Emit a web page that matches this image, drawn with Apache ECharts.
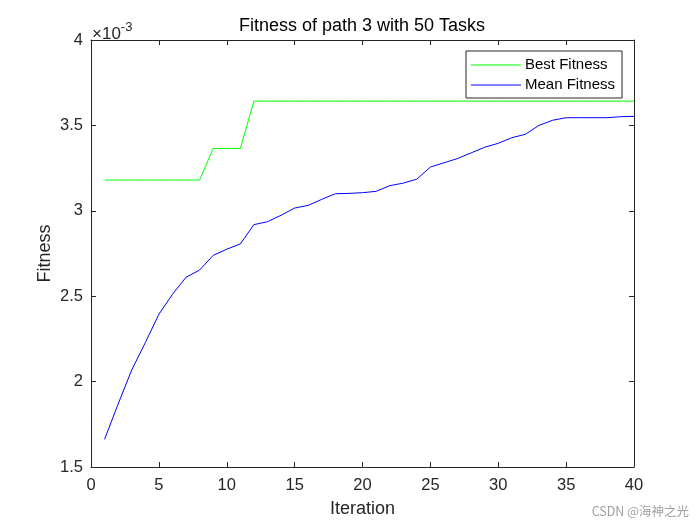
<!DOCTYPE html>
<html>
<head>
<meta charset="utf-8">
<script src="https://cdn.jsdelivr.net/npm/echarts@6/dist/echarts.min.js"></script>
<style>html,body{margin:0;padding:0;background:#fff}#c{width:700px;height:525px}</style>
</head>
<body>
<div id="c"></div>
<script>
// values in units of 1e-3
const iterations = [1,2,3,4,5,6,7,8,9,10,11,12,13,14,15,16,17,18,19,20,21,22,23,24,25,26,27,28,29,30,31,32,33,34,35,36,37,38,39,40];
const bestFitness = [3.18,3.18,3.18,3.18,3.18,3.18,3.18,3.18,3.365,3.365,3.365,3.642,3.642,3.642,3.642,3.642,3.642,3.642,3.642,3.642,3.642,3.642,3.642,3.642,3.642,3.642,3.642,3.642,3.642,3.642,3.642,3.642,3.642,3.642,3.642,3.642,3.642,3.642,3.642,3.642];
const meanFitness = [1.662,1.869,2.068,2.228,2.394,2.511,2.611,2.653,2.739,2.775,2.806,2.919,2.936,2.974,3.016,3.032,3.067,3.100,3.102,3.106,3.114,3.147,3.162,3.185,3.256,3.281,3.306,3.339,3.372,3.395,3.428,3.448,3.500,3.530,3.545,3.545,3.545,3.545,3.551,3.553];
const xTicks = {min:0, max:40, interval:5};
const yTicks = {min:1.5, max:4, interval:0.5};

const axisColor = '#262626';
const font = 'Liberation Sans, Arial, Helvetica, sans-serif';
const chart = echarts.init(document.getElementById('c'));
const common = {
  axisLine:{show:true, onZero:false, lineStyle:{color:axisColor, width:1}},
  axisTick:{show:true, inside:true, length:5, lineStyle:{color:axisColor}},
  splitLine:{show:false}
};
chart.setOption({
  animation:false,
  backgroundColor:'#fff',
  title:{text:'Fitness of path 3 with 50 Tasks', left:362, textAlign:'center', top:17, padding:0,
    textStyle:{fontFamily:font, fontSize:18, fontWeight:'normal', color:'#000'}},
  grid:{left:91, right:66, top:40, bottom:58, containLabel:false},
  legend:{
    data:['Best Fitness','Mean Fitness'],
    orient:'vertical', left:466, top:51,
    padding:[4,7,3,5], itemGap:0, itemWidth:50, itemHeight:1,
    icon:'rect',
    borderColor:'#262626', borderWidth:1, backgroundColor:'#fff',
    textStyle:{fontFamily:font, fontSize:15, lineHeight:20, color:'#000', padding:[0,0,0,-1]}
  },
  xAxis:[
    Object.assign({type:'value', min:xTicks.min, max:xTicks.max, interval:xTicks.interval, position:'bottom',
      name:'Iteration', nameLocation:'middle', nameGap:33, nameMoveOverlap:false,
      nameTextStyle:{fontFamily:font, fontSize:18, color:axisColor},
      axisLabel:{fontFamily:font, fontSize:16.5, color:axisColor, margin:10}}, common),
    Object.assign({type:'value', min:xTicks.min, max:xTicks.max, interval:xTicks.interval, position:'top',
      axisLabel:{show:false}}, common)
  ],
  yAxis:[
    Object.assign({type:'value', min:yTicks.min, max:yTicks.max, interval:yTicks.interval, position:'left',
      name:'Fitness', nameLocation:'middle', nameGap:37, nameMoveOverlap:false,
      nameTextStyle:{fontFamily:font, fontSize:18, color:axisColor},
      axisLabel:{fontFamily:font, fontSize:16.5, color:axisColor, margin:8}}, common),
    Object.assign({type:'value', min:yTicks.min, max:yTicks.max, interval:yTicks.interval, position:'right',
      axisLabel:{show:false}}, common)
  ],
  series:[
    {name:'Best Fitness', type:'line', data:iterations.map((x,i)=>[x,bestFitness[i]]),
      showSymbol:false, symbol:'none', lineStyle:{color:'#00ff00', width:1}, itemStyle:{color:'#00ff00'}},
    {name:'Mean Fitness', type:'line', data:iterations.map((x,i)=>[x,meanFitness[i]]),
      showSymbol:false, symbol:'none', lineStyle:{color:'#0000ff', width:1}, itemStyle:{color:'#0000ff'}}
  ],
  graphic:[
    {type:'text', left:92, top:21, style:{
      text:'{a|×10}{b|-3}', rich:{
        a:{fontFamily:font, fontSize:17, fill:axisColor, verticalAlign:'bottom'},
        b:{fontFamily:font, fontSize:13, fill:axisColor, verticalAlign:'top', padding:[0,0,9,0]}
      }}},
    {type:'text', right:11, top:505, style:{text:'CSDN @海神之光', fontFamily:'Noto Sans CJK SC, sans-serif', fontSize:12.5, fill:'#a0a0a0'}}
  ]
});
</script>
</body>
</html>
